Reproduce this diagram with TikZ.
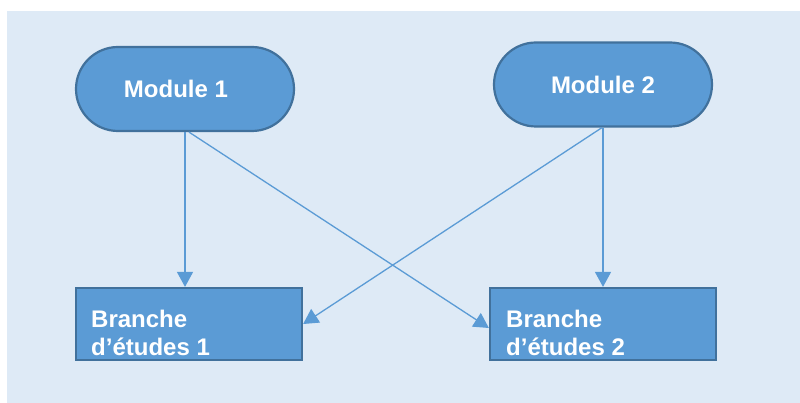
\documentclass[tikz,border=0pt]{standalone}
\usepackage{fontspec}
\setmainfont{Liberation Sans}
\usetikzlibrary{arrows.meta}
\definecolor{bgblue}{HTML}{DEEAF6}
\definecolor{boxfill}{HTML}{5B9BD5}
\definecolor{boxline}{HTML}{41719C}
\tikzset{
  modbox/.style={draw=boxline, fill=boxfill, line width=2.2pt, rounded corners=42pt,
    minimum width=218pt, minimum height=84pt, inner sep=0pt,
    text=white, font=\fontsize{24}{28}\selectfont\bfseries},
  brbox/.style={draw=boxline, fill=boxfill, line width=2.2pt,
    minimum width=226pt, minimum height=72pt, inner sep=0pt},
  brtext/.style={anchor=south west, inner sep=0pt, align=left,
    text=white, font=\fontsize{24}{28}\selectfont\bfseries},
  conn/.style={draw=boxfill, line width=1.3pt,
    -{Triangle[width=16pt,length=15pt]}}
}
\begin{document}
\begin{tikzpicture}[x=1pt,y=-1pt]
\useasboundingbox (0,0) rectangle (800,403);
\fill[white] (0,0) rectangle (800,403);
\fill[bgblue] (7,11) rectangle (800,403);

\node[modbox] (m1) at (185,89) {Module 1\hspace*{18pt}};
\node[modbox] (m2) at (603,84.5) {Module 2};

\node[brbox] (b1) at (189,324) {};
\node[brbox] (b2) at (603,324) {};
\node[brtext] (t1) at (91,356) {Branche\\d’études 1};
\node[brtext] (t2) at (506,356) {Branche\\d’études 2};

\draw[conn] (m1.south) -- (m1.south |- b1.north);
\draw[conn] ([xshift=4pt]m1.south) -- ([yshift=-4pt]b2.west);
\draw[conn] (m2.south) -- (m2.south |- b2.north);
\draw[conn] ([xshift=-1pt]m2.south) -- (b1.east);
\end{tikzpicture}
\end{document}
